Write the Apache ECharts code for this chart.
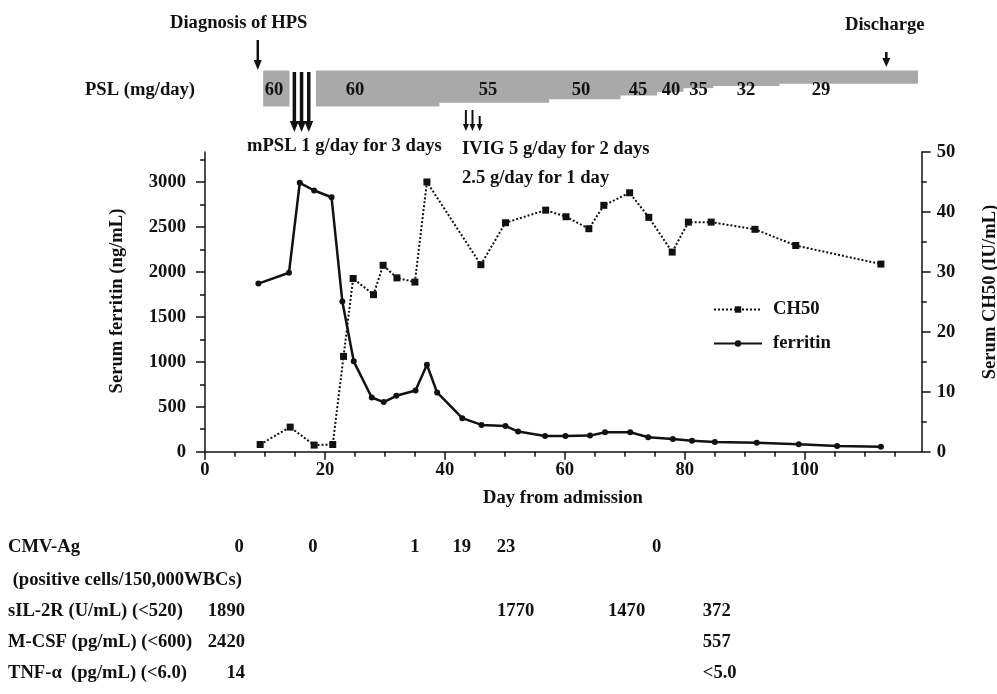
<!DOCTYPE html>
<html>
<head>
<meta charset="utf-8">
<script src="https://cdn.jsdelivr.net/npm/echarts@6/dist/echarts.min.js"></script>
<style>
html,body{margin:0;padding:0;background:#fff;}
#c{width:997px;height:694px;}
</style>
</head>
<body>
<div id="c"></div>
<script>
// ---------- DATA ----------
const ferritinDays = [8.9, 14, 15.8, 18.2, 21.1, 22.9, 24.8, 27.8, 29.8, 31.9, 35.1, 37, 38.7, 42.9, 46.1, 50.1, 52.2, 56.7, 60.1, 64.2, 66.7, 70.9, 73.9, 78, 81.2, 85, 92, 99, 105.4, 112.7];
const ferritinVals = [1870, 1990, 2990, 2905, 2830, 1670, 1005, 603, 552, 622, 681, 968, 659, 373, 298, 287, 224, 175, 175, 179, 217, 217, 161, 142, 123, 108, 100, 82, 64, 56];
const ch50Days = [9.2, 14.2, 18.2, 21.3, 23.1, 24.7, 28.1, 29.7, 32, 35, 37, 46, 50.1, 56.8, 60.2, 64, 66.5, 70.8, 74, 77.9, 80.6, 84.4, 91.7, 98.5, 112.7];
const ch50Vals = [1.2, 4.1, 1.1, 1.2, 15.9, 28.9, 26.2, 31.1, 29, 28.3, 45, 31.2, 38.2, 40.3, 39.2, 37.2, 41.1, 43.2, 39.1, 33.3, 38.3, 38.3, 37.1, 34.4, 31.3];

const pslStart = [9.7, 18.5, 39, 57.3, 69.2, 75.3, 79.7, 84.7, 95.7];
const pslEnd   = [14, 39, 57.3, 69.2, 75.3, 79.7, 84.7, 95.7, 118.8];
const pslDose  = [60, 60, 55, 50, 45, 40, 35, 32, 29];
const pslLabelDay = [11.5, 25, 47.2, 62.7, 72.2, 77.7, 82.3, 90.2, 102.7];

const diagnosisDay = 8.8;
const mpslDays = [14.9, 16.1, 17.3];
const ivigDays = [43.5, 44.6, 45.8];
const dischargeDay = 113.6;

const xLabelTicks = [0, 20, 40, 60, 80, 100];
const xMinorTicks = [5,10,15,25,30,35,45,50,55,65,70,75,85,90,95,105,110,115];
const yLeftTicks = [0, 500, 1000, 1500, 2000, 2500, 3000];
const yLeftMinor = [250, 750, 1250, 1750, 2250, 2750, 3250];

const tableLabels = ['CMV-Ag', ' (positive cells/150,000WBCs)', 'sIL-2R (U/mL) (<520)', 'M-CSF (pg/mL) (<600)', 'TNF-\u03b1  (pg/mL) (<6.0)'];
const cmvValues = ['0', '0', '1', '19', '23', '0'];
const cmvDays = [5.7, 18, 35, 42.8, 50.2, 75.3];
const firstColValues = ['1890', '2420', '14'];       // sIL-2R, M-CSF, TNF-α at admission
const sil2rMidValues = ['1770', '1470'];
const sil2rMidDays = [51.8, 70.3];
const lastColValues = ['372', '557', '<5.0'];          // sIL-2R, M-CSF, TNF-α late
const lastColDay = 83;

// ---------- CHART ----------
const FS = 18.6;
const FAM = '"Liberation Serif", "DejaVu Serif", serif';
const FONT = 'bold ' + FS + 'px ' + FAM;
const INK = '#111';
const chart = echarts.init(document.getElementById('c'), null, {renderer: 'canvas'});

const GL = 205, GR = 75.3;
const pslData = pslStart.map((s, i) => [s, pslEnd[i], pslDose[i]]);

const axisTxt = {fontFamily: FAM, fontWeight: 'bold', fontSize: FS, color: INK};
const LINE = {show: true, onZero: false, lineStyle: {color: INK, width: 1.5}};

chart.setOption({
  animation: false,
  backgroundColor: '#fff',
  grid: [
    {left: GL, right: GR, top: 152, height: 299.7},
    {left: GL, right: GR, top: 70.5, height: 36}
  ],
  xAxis: [
    {gridIndex: 0, type: 'value', min: 0, max: 119.5, position: 'bottom',
     axisLine: LINE,
     axisTick: {show: true, inside: false, length: 8, customValues: xLabelTicks, lineStyle: {color: INK, width: 1.5}},
     axisLabel: {customValues: xLabelTicks, margin: 9, formatter: v => String(v), ...axisTxt},
     splitLine: {show: false}},
    {gridIndex: 0, type: 'value', min: 0, max: 119.5, position: 'bottom',
     axisLine: {show: false, onZero: false},
     axisTick: {show: true, inside: false, length: 5, customValues: xMinorTicks, lineStyle: {color: INK, width: 1.5}},
     axisLabel: {show: false}, splitLine: {show: false}},
    {gridIndex: 1, type: 'value', min: 0, max: 119.5, show: false}
  ],
  yAxis: [
    {gridIndex: 0, type: 'value', min: 0, max: 3333.33, position: 'left',
     axisLine: LINE,
     axisTick: {show: true, inside: false, length: 9, customValues: yLeftTicks, lineStyle: {color: INK, width: 1.5}},
     axisLabel: {customValues: yLeftTicks, margin: 19, formatter: v => String(v), ...axisTxt},
     splitLine: {show: false}},
    {gridIndex: 0, type: 'value', min: 0, max: 50, interval: 10, position: 'right',
     axisLine: LINE,
     axisTick: {show: true, inside: false, length: 9, lineStyle: {color: INK, width: 1.5}},
     minorTick: {show: true, splitNumber: 2, length: 5, lineStyle: {color: INK, width: 1.5}},
     axisLabel: {margin: 15, formatter: v => String(v), ...axisTxt},
     splitLine: {show: false}},
    {gridIndex: 0, type: 'value', min: 0, max: 3333.33, position: 'left',
     axisLine: {show: false, onZero: false},
     axisTick: {show: true, inside: false, length: 5, customValues: yLeftMinor, lineStyle: {color: INK, width: 1.5}},
     axisLabel: {show: false}, splitLine: {show: false}},
    {gridIndex: 1, type: 'value', min: 11, max: 60, inverse: true, show: false}
  ],
  legend: {
    orient: 'vertical', left: 713, top: 300, padding: 0, itemWidth: 48, itemHeight: 8, itemGap: 15,
    data: ['CH50', 'ferritin'],
    textStyle: {fontFamily: FAM, fontWeight: 'bold', fontSize: FS, color: INK, padding: [0, 0, 0, 6]}
  },
  series: [
    {
      type: 'custom', name: 'PSL', xAxisIndex: 2, yAxisIndex: 3,
      encode: {x: [0, 1], y: 2},
      data: pslData,
      renderItem: function (params, api) {
        const s = api.value(0), e = api.value(1), d = api.value(2);
        const p0 = api.coord([s, 11]);
        const p1 = api.coord([e, d]);
        return {type: 'rect', shape: {x: p0[0], y: p0[1], width: p1[0] - p0[0] + 0.5, height: p1[1] - p0[1]},
                style: {fill: '#a9a9a9'}};
      }
    },
    {
      type: 'line', name: 'CH50', xAxisIndex: 0, yAxisIndex: 1,
      data: ch50Days.map((d, i) => [d, ch50Vals[i]]),
      symbol: 'rect', symbolSize: 7,
      lineStyle: {color: INK, width: 2, type: 'dotted'},
      itemStyle: {color: INK},
      z: 3
    },
    {
      type: 'line', name: 'ferritin', xAxisIndex: 0, yAxisIndex: 0,
      data: ferritinDays.map((d, i) => [d, ferritinVals[i]]),
      symbol: 'circle', symbolSize: 6,
      lineStyle: {color: INK, width: 2.5},
      itemStyle: {color: INK},
      z: 4
    }
  ]
});

// ---------- ANNOTATIONS ----------
function px(day) { return chart.convertToPixel({xAxisIndex: 0}, day); }
function T(x, y, text, align, rot) {
  return {type: 'text', x: x, y: y, z: 10, rotation: rot || 0,
          style: {text: text, font: FONT, fill: INK, textAlign: align || 'left', textVerticalAlign: 'middle',
                  align: align || 'left', verticalAlign: 'middle'}};
}
function A(x, y0, y1, w, hw, hh) {
  return [
    {type: 'line', z: 10, shape: {x1: x, y1: y0, x2: x, y2: y1 - hh + 1}, style: {stroke: INK, lineWidth: w}},
    {type: 'polygon', z: 10, shape: {points: [[x - hw / 2, y1 - hh], [x + hw / 2, y1 - hh], [x, y1]]}, style: {fill: INK}}
  ];
}

const g = [];
// axis titles
g.push(T(117, 301, 'Serum ferritin (ng/mL)', 'center', Math.PI / 2));
g.push(T(990, 292, 'Serum CH50 (IU/mL)', 'center', Math.PI / 2));
g.push(T(563, 498, 'Day from admission', 'center'));

g.push(T(170, 23, 'Diagnosis of HPS'));
g.push(T(845, 25, 'Discharge'));
g.push(T(85, 90, 'PSL (mg/day)'));
g.push(T(247, 146, 'mPSL 1 g/day for 3 days'));
g.push(T(462, 149, 'IVIG 5 g/day for 2 days'));
g.push(T(462, 178, '2.5 g/day for 1 day'));
pslLabelDay.forEach((d, i) => g.push(T(px(d), 90, String(pslDose[i]), 'center')));

g.push(...A(px(diagnosisDay), 40, 70, 2.5, 8, 10));
mpslDays.forEach(d => g.push(...A(px(d), 72, 132, 3.5, 9, 11)));
ivigDays.forEach((d, i) => g.push(...A(px(d), i === 2 ? 116 : 110, 131, 2, 6, 7)));
g.push(...A(px(dischargeDay), 52, 67, 2.5, 8, 9));

// table
const rowY = [547, 580, 611, 642, 673];
tableLabels.forEach((t, i) => g.push(T(8, rowY[i], t)));
cmvValues.forEach((v, i) => g.push(T(px(cmvDays[i]), rowY[0], v, 'center')));
firstColValues.forEach((v, i) => g.push(T(245, rowY[2 + i], v, 'right')));
sil2rMidValues.forEach((v, i) => g.push(T(px(sil2rMidDays[i]), rowY[2], v, 'center')));
lastColValues.forEach((v, i) => g.push(T(px(lastColDay), rowY[2 + i], v, 'left')));

chart.setOption({graphic: {elements: g}});
</script>
</body>
</html>
